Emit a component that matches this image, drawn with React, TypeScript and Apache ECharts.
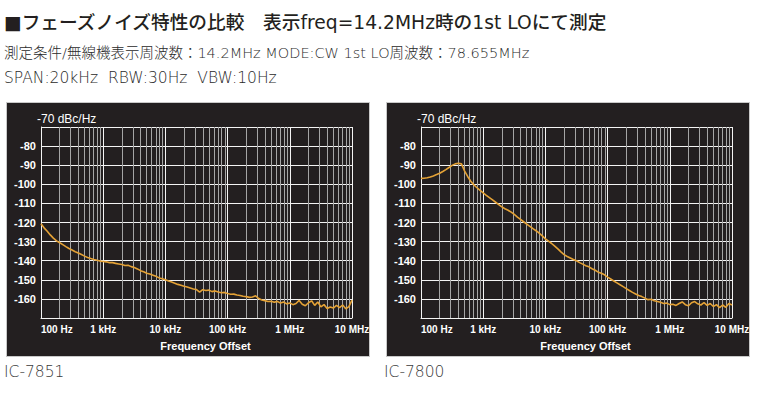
import React, { useEffect, useRef } from "react";
import * as echarts from "echarts";

// Frequency offsets (Hz), shared by both traces
const FREQS = [
  100, 112, 126, 141, 158, 178, 200, 224, 251, 282, 316, 355, 398, 447, 501, 562, 631, 708, 794, 891,
  1000, 1122, 1259, 1413, 1585, 1778, 1995, 2239, 2512, 2818, 3162, 3548, 3981, 4467, 5012, 5623, 6310, 7079, 7943, 8913,
  10000, 11220, 12590, 14130, 15850, 17780, 19950, 22390, 25120, 28180, 31620, 35480, 39810, 44670, 50120, 56230, 63100, 70790, 79430, 89130,
  100000, 112200, 125900, 141300, 158500, 177800, 199500, 223900, 251200, 281800, 316200, 354800, 398100, 446700, 501200, 562300, 631000, 707900, 794300, 891300,
  1000000, 1122000, 1259000, 1413000, 1585000, 1778000, 1995000, 2239000, 2512000, 2818000, 3162000, 3548000, 3981000, 4467000, 5012000, 5623000, 6310000, 7079000, 7943000, 8913000,
  10000000,
];

// Phase noise, dBc/Hz
const IC7851 = [
  -120.7, -122.8, -124.6, -126.5, -128.2, -129.6, -130.6, -131.6, -132.6, -133.6,
  -134.4, -135.3, -136.0, -136.8, -137.6, -138.3, -138.9, -139.4, -139.8, -140.2,
  -140.4, -140.6, -141.0, -141.0, -141.4, -141.7, -142.0, -142.5, -142.4, -143.1,
  -143.6, -144.3, -145.2, -145.8, -146.6, -147.0, -147.6, -148.2, -149.0, -149.5,
  -150.0, -150.6, -151.2, -151.8, -152.4, -152.9, -153.4, -153.8, -154.3, -154.8,
  -155.1, -156.5, -155.2, -155.6, -155.4, -156.2, -155.8, -156.4, -156.8, -156.6,
  -157.2, -157.6, -157.5, -158.0, -158.2, -158.6, -158.8, -159.2, -159.0, -158.4,
  -159.8, -160.6, -160.9, -161.4, -161.2, -161.8, -161.3, -162.2, -161.6, -162.6,
  -162.1, -163.0, -162.4, -160.8, -162.8, -163.6, -162.0, -161.0, -163.4, -161.6,
  -164.2, -163.0, -165.0, -164.2, -164.8, -163.4, -164.6, -163.2, -165.2, -164.0,
  -160.6,
];

const IC7800 = [
  -96.9, -96.8, -96.6, -96.2, -95.6, -94.9, -94.2, -93.3, -92.3, -91.2,
  -90.1, -89.3, -89.0, -89.3, -93.0, -95.9, -98.4, -100.3, -101.8, -103.2,
  -104.5, -105.8, -107.0, -108.2, -109.4, -110.6, -111.8, -112.8, -113.6, -114.6,
  -115.8, -117.2, -118.4, -119.6, -120.8, -122.0, -123.2, -124.3, -125.6, -127.0,
  -128.6, -129.8, -131.0, -132.4, -133.8, -135.4, -136.8, -137.8, -138.6, -139.4,
  -140.0, -141.0, -141.8, -142.6, -143.2, -144.2, -145.0, -146.0, -146.6, -147.4,
  -148.6, -149.6, -150.6, -151.6, -152.6, -153.6, -154.6, -155.6, -156.6, -157.4,
  -158.2, -158.8, -159.6, -160.4, -160.2, -161.0, -161.4, -161.8, -162.4, -162.2,
  -163.0, -162.8, -163.4, -162.4, -161.6, -163.0, -163.6, -162.0, -161.4, -162.6,
  -163.2, -162.0, -163.4, -162.4, -164.0, -163.0, -164.6, -163.2, -164.4, -162.4,
  -163.2,
];

const DECADES = [100, 1000, 10000, 100000, 1000000, 10000000];
const X_LABELS = ["100 Hz", "1 kHz", "10 kHz", "100 kHz", "1 MHz", "10 MHz"];
const MINOR_MULTS = [2, 3, 4, 5, 6, 7, 8, 9];
const MODELS = ["IC-7851", "IC-7800"];

const TITLE = "■フェーズノイズ特性の比較　表示freq=14.2MHz時の1st LOにて測定";
const SUB1 = "測定条件/無線機表示周波数：14.2MHz MODE:CW 1st LO周波数：78.655MHz";
const SUB2 = "SPAN:20kHz  RBW:30Hz  VBW:10Hz";

const JP = "'DejaVu Sans', 'Noto Sans CJK JP', sans-serif";
const AX = "'Liberation Sans', Arial, sans-serif";

export default function App() {
  const ref = useRef<HTMLDivElement>(null);

  useEffect(() => {
    if (!ref.current) return;
    const chart = echarts.init(ref.current, undefined, { renderer: "svg" });

    const minorLines: { xAxis: number }[] = [];
    DECADES.slice(0, -1).forEach((d) => MINOR_MULTS.forEach((m) => minorLines.push({ xAxis: d * m })));

    const PANEL_X = [0, 380];
    const grids = PANEL_X.map((dx) => ({ left: 41 + dx, top: 127, width: 311, height: 191 }));

    const xAxes = PANEL_X.map((_, i) => ({
      type: "log",
      logBase: 10,
      gridIndex: i,
      min: 100,
      max: 10000000,
      name: "Frequency Offset",
      nameLocation: "middle",
      nameGap: 22,
      nameTextStyle: { color: "#ffffff", fontFamily: AX, fontWeight: "bold", fontSize: 11, padding: [0, 0, 0, 18] },
      axisLine: { show: true, lineStyle: { color: "#f4f4f4", width: 1 } },
      axisTick: { show: false },
      axisLabel: {
        color: "#ffffff",
        fontFamily: AX,
        fontWeight: "bold",
        fontSize: 10,
        margin: 6,
        alignMinLabel: "left",
        formatter: (v: number) => X_LABELS[Math.round(Math.log10(v)) - 2] ?? "",
      },
      splitLine: { show: true, lineStyle: { color: "#f4f4f4", width: 1 } },
    }));

    const yAxes = PANEL_X.map((_, i) => ({
      type: "value",
      gridIndex: i,
      min: -170,
      max: -70,
      interval: 10,
      axisLine: { show: true, lineStyle: { color: "#f4f4f4", width: 1 } },
      axisTick: { show: false },
      axisLabel: {
        color: "#ffffff",
        fontFamily: AX,
        fontWeight: "bold",
        fontSize: 11,
        margin: 5,
        formatter: (v: number) => (v === -70 || v === -170 ? "" : String(v)),
      },
      splitLine: { show: true, lineStyle: { color: "#f4f4f4", width: 1 } },
    }));

    const traces = [IC7851, IC7800];
    const series: any[] = [];
    traces.forEach((vals, i) => {
      series.push({
        type: "line",
        xAxisIndex: i,
        yAxisIndex: i,
        data: [],
        z: 1,
        silent: true,
        markLine: {
          silent: true,
          symbol: "none",
          z: 1,
          label: { show: false },
          lineStyle: { color: "#a6a6a6", type: "solid", width: 1 },
          emphasis: { disabled: true },
          data: minorLines,
        },
      });
      series.push({
        name: MODELS[i],
        type: "line",
        xAxisIndex: i,
        yAxisIndex: i,
        z: 10,
        showSymbol: false,
        symbol: "none",
        lineStyle: { color: "#e4a236", width: 1.6 },
        data: FREQS.map((f, k) => [f, vals[k]]),
      });
    });

    const textStyle = (size: number, color: string, weight: any = "normal", family = JP) => ({
      fill: color,
      fontSize: size,
      fontFamily: family,
      fontWeight: weight,
      verticalAlign: "middle",
      align: "left",
    });

    const graphic: any[] = [];
    PANEL_X.forEach((dx, i) => {
      graphic.push({
        type: "rect",
        z: -10,
        shape: { x: 6.5 + dx, y: 102.5, width: 363, height: 254 },
        style: { fill: "#231f20", stroke: "#c9c9c9", lineWidth: 1 },
      });
      graphic.push({
        type: "text",
        x: 37 + dx,
        y: 119,
        style: { text: "-70 dBc/Hz", ...textStyle(12, "#ffffff", "normal", AX) },
      });
      graphic.push({
        type: "text",
        x: 4 + dx,
        y: 372,
        style: { text: MODELS[i], ...textStyle(15.5, "#3a3a3a", 300) },
      });
    });
    graphic.push({ type: "text", x: 4, y: 22, style: { text: TITLE, ...textStyle(18.7, "#231f20", 500) } });
    graphic.push({ type: "text", x: 4, y: 53, style: { text: SUB1, ...textStyle(14.5, "#2a2a2a", 300) } });
    graphic.push({ type: "text", x: 4, y: 78, style: { text: SUB2, ...textStyle(15.5, "#2a2a2a", 300) } });

    chart.setOption({
      animation: false,
      backgroundColor: "#ffffff",
      grid: grids,
      xAxis: xAxes,
      yAxis: yAxes,
      series,
      graphic,
    });

    return () => chart.dispose();
  }, []);

  return <div ref={ref} style={{ position: "fixed", left: 0, top: 0, width: 760, height: 396 }} />;
}
